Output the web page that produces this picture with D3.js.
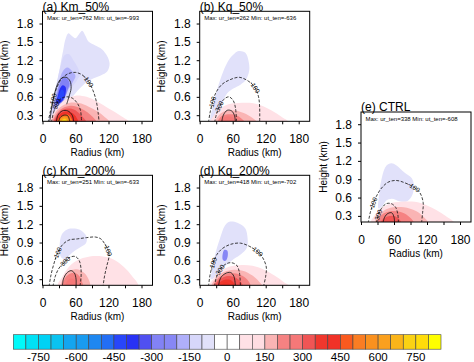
<!DOCTYPE html>
<html>
<head>
<meta charset="utf-8">
<script src="https://cdn.jsdelivr.net/npm/d3@7"></script>
<style>
  body { margin: 0; background: #fff; }
  svg { display: block; font-family: "Liberation Sans", Arial, Helvetica, sans-serif; }
</style>
</head>
<body>
<svg id="chart" width="474" height="362"></svg>
<script>
// Contour levels and colour table (one colour per band, 34 bands)
const levels = d3.range(-800, 801, 50);
const palette = [
  "#00fafa", "#00e1f5", "#00d2f5", "#0ac3f0", "#14a5f0", "#199bf0", "#1e87f0", "#236ef5",
  "#2846fa", "#2832f5", "#5050f0", "#8282f5", "#8787f5", "#afaffa", "#d7d7fa", "#e1e1fa",
  "#ffffff", "#ffffff", "#ffe1e6", "#ffdde2", "#fab4b4", "#f58282", "#f57878", "#f05555",
  "#f0372d", "#f03228", "#fa5a1e", "#fa7d23", "#fa911e", "#faa01e", "#fab419", "#fad214",
  "#ffdc0a", "#ffff00"
];
const cbLabels = [-750, -600, -450, -300, -150, 0, 150, 300, 450, 600, 750];
const radiusTicks = [0, 30, 60, 90, 120, 150, 180];
const radiusLabels = [0, 60, 120, 180];
const heightTicks = [0.3, 0.6, 0.9, 1.2, 1.5, 1.8];

const panelTitles = ["(a) Km_50%", "(b) Kq_50%", "(c) Km_200%", "(d) Kq_200%", "(e) CTRL"];
const panelMax = [762, 262, 251, 418, 338];
const panelMin = [-993, -636, -633, -702, -608];

// shaded field: [band value, outline as [radius km, height km]]
const kmHalfFill = [
  [-75, [[12,0.18],[16,0.4],[22,0.65],[28,0.9],[33,1.15],[38,1.38],[42,1.55],[47,1.64],[53,1.6],[60,1.56],[66,1.62],[72,1.68],[78,1.6],[84,1.5],[96,1.44],[108,1.38],[118,1.26],[122,1.14],[118,1.02],[106,0.95],[92,0.9],[80,0.84],[68,0.74],[58,0.64],[50,0.55],[44,0.46],[40,0.36],[36,0.18]]],
  [-125, [[16,0.32],[21,0.6],[27,0.88],[33,1.1],[40,1.28],[48,1.3],[56,1.2],[64,1.08],[68,0.96],[62,0.86],[54,0.76],[46,0.62],[40,0.48],[33,0.36],[26,0.3]]],
  [-175, [[19,0.4],[24,0.62],[30,0.85],[37,1.02],[45,1.08],[54,1.02],[60,0.94],[55,0.84],[47,0.72],[41,0.58],[35,0.45],[28,0.38]]],
  [-275, [[22,0.46],[26,0.62],[31,0.8],[37,0.9],[44,0.9],[49,0.82],[45,0.7],[40,0.58],[34,0.49]]],
  [-375, [[25,0.5],[28,0.62],[32,0.74],[37,0.79],[42,0.76],[42,0.66],[38,0.56],[31,0.5]]],
  [-425, [[28,0.56],[31,0.66],[35,0.72],[39,0.69],[38,0.6],[33,0.55]]],
  [75, [[14,0.18],[20,0.34],[30,0.47],[44,0.57],[60,0.62],[80,0.6],[100,0.52],[122,0.4],[142,0.29],[158,0.18]]],
  [175, [[17,0.18],[22,0.32],[32,0.43],[48,0.5],[66,0.5],[84,0.44],[100,0.36],[112,0.28],[122,0.18]]],
  [225, [[19,0.18],[24,0.3],[34,0.4],[48,0.45],[62,0.44],[76,0.38],[88,0.3],[98,0.18]]],
  [325, [[21,0.18],[25,0.28],[33,0.37],[46,0.41],[58,0.39],[68,0.32],[76,0.24],[80,0.18]]],
  [425, [[23,0.18],[27,0.27],[35,0.34],[46,0.36],[55,0.33],[62,0.26],[65,0.18]]],
  [525, [[27,0.18],[30,0.25],[37,0.3],[45,0.31],[51,0.27],[54,0.18]]],
  [625, [[30,0.18],[33,0.24],[39,0.27],[45,0.26],[48,0.18]]],
  [725, [[33,0.18],[36,0.22],[40,0.24],[44,0.22],[45,0.18]]]
];
const kqHalfFill = [
  [-75, [[20,0.18],[24,0.45],[31,0.7],[40,0.95],[50,1.16],[60,1.28],[71,1.35],[83,1.32],[89,1.18],[90,1.03],[84,0.88],[74,0.8],[62,0.74],[50,0.66],[42,0.52],[36,0.36],[32,0.18]]],
  [75, [[20,0.18],[26,0.3],[36,0.4],[52,0.48],[70,0.5],[95,0.5],[112,0.46],[130,0.38],[148,0.28],[162,0.18]]],
  [175, [[28,0.18],[33,0.28],[44,0.36],[60,0.38],[76,0.35],[92,0.28],[104,0.18]]],
  [225, [[33,0.18],[38,0.27],[48,0.31],[62,0.31],[74,0.26],[82,0.18]]],
  [275, [[38,0.18],[42,0.25],[50,0.28],[58,0.27],[64,0.23],[66,0.18]]]
];
const kmDblFill = [
  [-75, [[33,0.67],[31,0.83],[35,1.03],[44,1.11],[53,1.13],[68,1.11],[80,1.0],[79,0.89],[68,0.82],[58,0.76],[50,0.7],[41,0.62]]],
  [75, [[28,0.18],[36,0.34],[46,0.48],[62,0.6],[86,0.67],[110,0.67],[130,0.62],[148,0.5],[162,0.36],[174,0.18]]],
  [175, [[34,0.18],[38,0.32],[46,0.42],[58,0.46],[70,0.44],[80,0.36],[86,0.18]]],
  [225, [[37,0.18],[40,0.3],[48,0.38],[58,0.4],[66,0.36],[71,0.28],[73,0.18]]],
  [275, [[42,0.18],[45,0.27],[51,0.31],[58,0.3],[62,0.18]]]
];
const kqDblFill = [
  [-75, [[20,0.3],[22,0.43],[28,0.7],[37,0.97],[46,1.18],[54,1.24],[63,1.24],[74,1.2],[83,1.13],[87,0.98],[86,0.82],[75,0.71],[62,0.63],[47,0.52],[35,0.41],[26,0.32]]],
  [-225, [[42,0.62],[42,0.72],[45,0.78],[50,0.77],[51,0.68],[47,0.6]]],
  [75, [[18,0.18],[24,0.3],[36,0.42],[52,0.5],[72,0.53],[96,0.52],[116,0.46],[136,0.36],[152,0.26],[164,0.18]]],
  [175, [[22,0.18],[28,0.3],[40,0.4],[58,0.45],[78,0.44],[96,0.36],[108,0.26],[114,0.18]]],
  [225, [[25,0.18],[30,0.28],[42,0.37],[58,0.4],[74,0.37],[86,0.3],[92,0.18]]],
  [325, [[29,0.18],[33,0.27],[43,0.33],[56,0.35],[68,0.31],[76,0.24],[78,0.18]]],
  [375, [[33,0.18],[37,0.25],[45,0.29],[55,0.29],[62,0.24],[64,0.18]]],
  [425, [[38,0.18],[42,0.23],[48,0.25],[53,0.23],[55,0.18]]]
];
const ctrlFill = [
  [-75, [[32,0.42],[33,0.66],[38,0.93],[46,1.12],[55,1.16],[64,1.13],[79,1.01],[92,0.92],[96,0.82],[94,0.66],[84,0.54],[70,0.54],[56,0.58],[46,0.55],[39,0.46]]],
  [75, [[18,0.18],[24,0.3],[36,0.42],[52,0.5],[72,0.53],[98,0.53],[118,0.48],[136,0.4],[154,0.3],[170,0.18]]],
  [175, [[26,0.18],[31,0.3],[42,0.39],[58,0.44],[78,0.44],[100,0.38],[114,0.28],[122,0.18]]],
  [225, [[30,0.18],[34,0.28],[44,0.35],[60,0.38],[76,0.35],[88,0.28],[96,0.18]]],
  [325, [[36,0.18],[40,0.25],[48,0.29],[60,0.3],[68,0.26],[73,0.18]]]
];

// line contours: value, path, indexes of labelled points
const kmHalfLines = [
  { v: -100, pts: [[10,0.18],[14,0.35],[19,0.55],[26,0.75],[35,0.9],[47,0.98],[60,1.0],[72,0.96],[83,0.86],[92,0.7],[98,0.52],[101,0.35],[103,0.18]], at: [2, 8] },
  { v: -300, pts: [[16,0.18],[20,0.34],[25,0.47],[32,0.56],[42,0.6],[54,0.58],[63,0.5],[69,0.38],[71,0.18]], at: [2] },
  { v: 0, pts: [[13,0.18],[16,0.38],[21,0.62],[27,0.8],[34,0.9],[43,0.92],[50,0.86],[52,0.74],[48,0.6],[44,0.48]], at: [] },
  { v: 100, pts: [[25,0.18],[28,0.3],[36,0.37],[46,0.37],[54,0.3],[57,0.18]], at: [] },
  { v: 300, pts: [[29,0.18],[32,0.26],[39,0.3],[46,0.29],[50,0.18]], at: [] }
];
const kqHalfLines = [
  { v: -100, pts: [[16,0.18],[19,0.35],[23,0.5],[29,0.66],[40,0.8],[55,0.88],[72,0.92],[88,0.86],[100,0.76],[107,0.6],[109,0.42],[109,0.18]], at: [2, 8] },
  { v: -300, pts: [[27,0.18],[30,0.3],[35,0.43],[44,0.56],[53,0.6],[61,0.54],[65,0.42],[67,0.18]], at: [2] },
  { v: 100, pts: [[40,0.18],[43,0.3],[50,0.38],[58,0.37],[63,0.3],[65,0.18]], at: [] }
];
const kmDblLines = [
  { v: -100, pts: [[12,0.18],[15,0.35],[20,0.53],[27,0.72],[36,0.86],[48,0.94],[64,0.96],[80,0.98],[96,0.99],[106,0.96],[113,0.88],[119,0.78],[121,0.68],[117,0.52],[113,0.36],[110,0.18]], at: [3, 11] },
  { v: -300, pts: [[19,0.18],[23,0.34],[30,0.48],[40,0.58],[50,0.66],[60,0.67],[67,0.6],[70,0.47],[70,0.32],[68,0.18]], at: [3] },
  { v: 100, pts: [[36,0.18],[38,0.3],[44,0.4],[52,0.44],[58,0.4],[61,0.3],[61,0.18]], at: [] }
];
const kqDblLines = [
  { v: -100, pts: [[16,0.18],[19,0.38],[24,0.55],[31,0.7],[41,0.8],[56,0.87],[74,0.89],[90,0.84],[104,0.76],[114,0.66],[121,0.5],[120,0.35],[116,0.18]], at: [2, 8] },
  { v: -300, pts: [[27,0.18],[30,0.32],[36,0.44],[46,0.54],[57,0.57],[67,0.53],[72,0.42],[74,0.18]], at: [2] },
  { v: 100, pts: [[34,0.18],[38,0.32],[46,0.39],[56,0.41],[62,0.35],[65,0.18]], at: [] }
];
const ctrlLines = [
  { v: -100, pts: [[13,0.18],[17,0.36],[22,0.5],[28,0.62],[36,0.74],[49,0.85],[64,0.88],[80,0.84],[96,0.77],[107,0.68],[113,0.52],[112,0.35],[110,0.18]], at: [2, 8] },
  { v: -300, pts: [[28,0.18],[31,0.3],[37,0.42],[46,0.5],[55,0.5],[63,0.44],[67,0.32],[68,0.18]], at: [1] },
  { v: 100, pts: [[40,0.18],[43,0.28],[49,0.34],[56,0.35],[60,0.28],[61,0.18]], at: [] }
];

// layout
const W = 110, H = 110;
const boxes = [[42.5, 11.3], [199.7, 11.3], [42.5, 175.3], [199.7, 175.3], [361, 112]];
const fills = [kmHalfFill, kqHalfFill, kmDblFill, kqDblFill, ctrlFill];
const lines = [kmHalfLines, kqHalfLines, kmDblLines, kqDblLines, ctrlLines];

const svg = d3.select("#chart");
const color = d3.scaleThreshold().domain(levels).range(palette);

const x = d3.scaleLinear().domain([0, 200]).range([0, W]);
const y = d3.scaleLinear().domain([0.2, 2.0]).range([H, 0]);
const shape = d3.line().x(d => x(d[0])).y(d => y(d[1])).curve(d3.curveCatmullRomClosed.alpha(0.5));
const trace = d3.line().x(d => x(d[0])).y(d => y(d[1])).curve(d3.curveCatmullRom.alpha(0.5));

panelTitles.forEach((title, i) => {
  const [x0, y0] = boxes[i];
  const g = svg.append("g").attr("transform", `translate(${x0},${y0})`);

  g.append("clipPath").attr("id", "clip" + i)
    .append("rect").attr("width", W).attr("height", H);
  const plot = g.append("g").attr("clip-path", `url(#clip${i})`);

  plot.selectAll("path.fill")
    .data(fills[i])
    .join("path")
    .attr("class", "fill")
    .attr("d", d => shape(d[1]))
    .attr("fill", d => color(d[0]));

  plot.selectAll("path.cn")
    .data(lines[i])
    .join("path")
    .attr("class", "cn")
    .attr("d", d => trace(d.pts))
    .attr("fill", "none")
    .attr("stroke", "#111")
    .attr("stroke-width", 0.8)
    .attr("stroke-dasharray", d => d.v < 0 ? "3,1.6" : null);

  // contour labels oriented along the line
  lines[i].forEach(c => {
    c.at.forEach(k => {
      const p = c.pts[k], a = c.pts[k - 1], b = c.pts[k + 1];
      let ang = Math.atan2(y(b[1]) - y(a[1]), x(b[0]) - x(a[0])) * 180 / Math.PI;
      if (ang > 90) ang -= 180;
      if (ang < -90) ang += 180;
      plot.append("text")
        .attr("transform", `translate(${x(p[0])},${y(p[1])}) rotate(${ang})`)
        .attr("text-anchor", "middle")
        .attr("dy", "0.35em")
        .attr("font-size", 6.5)
        .text(c.v);
    });
  });

  g.append("rect")
    .attr("width", W).attr("height", H)
    .attr("fill", "none").attr("stroke", "#000").attr("stroke-width", 1);

  const yAxis = g.append("g")
    .call(d3.axisLeft(y).tickValues(heightTicks).tickSize(3).tickPadding(6).tickFormat(d3.format(".1f")));
  const xAxis = g.append("g")
    .attr("transform", `translate(0,${H})`)
    .call(d3.axisBottom(x).tickValues(radiusTicks).tickSize(3).tickPadding(10)
      .tickFormat(d => radiusLabels.includes(d) ? d : ""));
  [yAxis, xAxis].forEach(ax => {
    ax.select(".domain").remove();
    ax.selectAll("text").attr("font-size", 12).attr("font-family", null).attr("fill", "#000");
    ax.selectAll("line").attr("stroke", "#000");
  });

  g.append("text")
    .attr("x", 0).attr("y", -0.6)
    .attr("font-size", 12)
    .text(title);

  g.append("text")
    .attr("x", 4.5).attr("y", 8.9)
    .attr("font-size", 6)
    .text(`Max: ur_ten=${panelMax[i]} Min: ut_ten=${panelMin[i]}`);

  g.append("text")
    .attr("x", W / 2).attr("y", H + 35)
    .attr("text-anchor", "middle")
    .attr("font-size", 10)
    .text("Radius (km)");

  g.append("text")
    .attr("transform", `translate(-34.5,${H / 2}) rotate(-90)`)
    .attr("text-anchor", "middle")
    .attr("font-size", 10)
    .text("Height (km)");
});

// label bar
const cbX = d3.scaleLinear().domain([0, palette.length]).range([13.3, 441]);
const cb = svg.append("g").attr("transform", "translate(0,334.7)");
cb.selectAll("rect")
  .data(palette)
  .join("rect")
  .attr("x", (d, k) => cbX(k))
  .attr("width", cbX(1) - cbX(0))
  .attr("height", 14.5)
  .attr("fill", d => d)
  .attr("stroke", "#444")
  .attr("stroke-width", 0.6);
cb.selectAll("text")
  .data(cbLabels)
  .join("text")
  .attr("x", d => cbX(levels.indexOf(d) + 1))
  .attr("y", 26.8)
  .attr("text-anchor", "middle")
  .attr("font-size", 11.5)
  .text(d => d);
</script>
</body>
</html>
